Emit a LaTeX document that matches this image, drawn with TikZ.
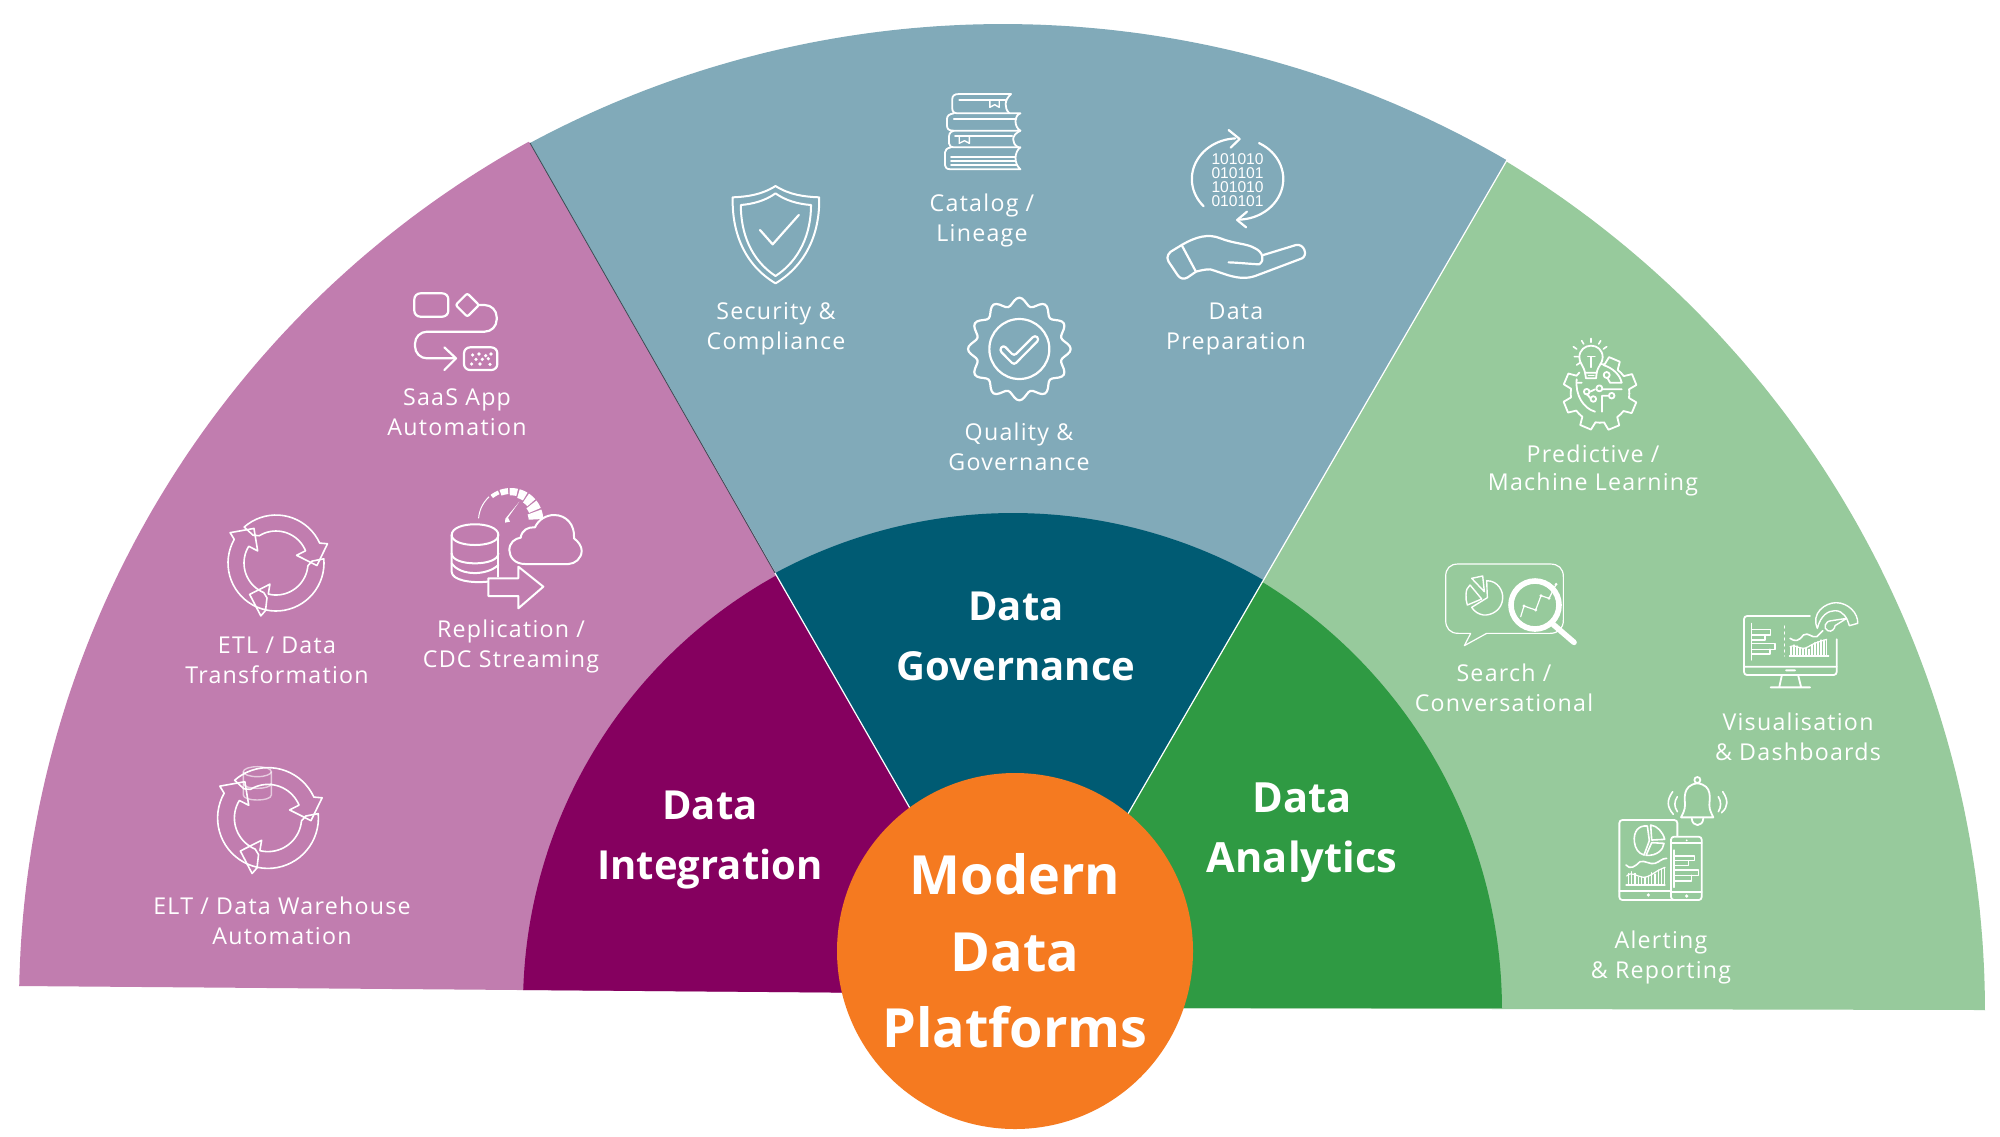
\documentclass[tikz,border=0pt]{standalone}
\usepackage{fontspec}
\setmainfont{Open Sans}
\newfontfamily\labfont[LetterSpace=5.4]{Open Sans}
\newfontfamily\bitfont{Liberation Sans}
\definecolor{pinkL}{HTML}{C17DAF}
\definecolor{blueL}{HTML}{81AAB9}
\definecolor{greenL}{HTML}{97CA9C}
\definecolor{plumD}{HTML}{85005F}
\definecolor{tealD}{HTML}{005B73}
\definecolor{greenD}{HTML}{2F9A43}
\definecolor{orangeC}{HTML}{F57A20}
\newcommand{\Recyc}[3]{% cx cy scale
  \begin{scope}[shift={(#1,#2)},x=#3*0.5pt,y=-#3*0.5pt]
  \foreach \T/\B in {3.5/135,130/135,237.5/135}{
    \draw[ic,line width=0.8pt] plot[domain=\T-\B:\T-28,samples=20,variable=\s] (\s:48) -- (\T-24:55) -- (\T:41) -- (\T-24:22) -- (\T-26:32) -- plot[domain=\T-26:\T-\B+10,samples=20,variable=\s] (\s:32) -- (\T-\B+2:36) -- cycle;
  }
  \end{scope}}
\tikzset{
  ic/.style={draw=white,line width=1.1pt,line join=round,line cap=round},
  ict/.style={draw=white,line width=0.6pt,line join=round,line cap=round},
  zm/.style n args={2}{shift={(#1,#2)},x=0.166667pt,y=-0.166667pt},
  zmw/.style n args={2}{shift={(#1,#2)},x=0.20408pt,y=-0.166667pt},
  lab/.style={text=white,align=center,font=\labfont\fontsize{11.6}{15}\selectfont},
  labt/.style={text=white,align=center,font=\labfont\fontsize{11.6}{14}\selectfont},
  head/.style={text=white,align=center,font=\bfseries\fontsize{20}{30}\selectfont},
  heada/.style={text=white,align=center,font=\bfseries\fontsize{20.8}{30}\selectfont},
  core/.style={text=white,align=center,font=\bfseries\fontsize{27}{38.3}\selectfont},
  bits/.style={text=white,inner sep=0pt,font=\bitfont\fontsize{7.8}{8}\selectfont},
}
\begin{document}
\begin{tikzpicture}[x=0.5pt,y=-0.5pt]
\useasboundingbox (0,0) rectangle (2000,1136);
\fill[white] (0,0) rectangle (2000,1136);
\coordinate (apex) at (1020,1000);
\coordinate (pl) at (19,986);
\coordinate (pt) at (530,143);
\coordinate (gt) at (1507,160);
\coordinate (gr) at (1984,1010);
\coordinate (pm) at (775,573);
\coordinate (gm) at (1263,580);
% light sectors
\fill[pinkL] (pl) -- plot[domain=178.9:118.9,samples=90,variable=\t] ({1005+986*cos(\t)},{1005-986*sin(\t)}) -- (pt) -- (apex) -- (1020,994) -- cycle;
\fill[blueL] (pt) -- plot[domain=118.2:59.75,samples=90,variable=\t] ({1003+1000*cos(\t)},{1024-1000*sin(\t)}) -- (gt) -- (apex) -- cycle;
\fill[greenL] (gt) -- plot[domain=58.8:0.1,samples=90,variable=\t] ({990+995*cos(\t)},{1012-995*sin(\t)}) -- (gr) -- (1020,1008) -- (apex) -- cycle;
% dark sectors
\fill[plumD] (523,990) -- plot[domain=178.2:119,samples=90,variable=\t] ({1014+491*cos(\t)},{1005-491*sin(\t)}) -- (pm) -- (apex) -- (1020,994) -- cycle;
\fill[tealD] (pm) -- plot[domain=118.4:60.05,samples=90,variable=\t] ({1013+501*cos(\t)},{1014-501*sin(\t)}) -- (gm) -- (apex) -- cycle;
\fill[greenD] (gm) -- plot[domain=58.55:0.2,samples=90,variable=\t] ({1000+502*cos(\t)},{1010-502*sin(\t)}) -- (1501,1008) -- (1020,1008) -- (apex) -- cycle;
% dividers
\draw[white,line width=0.6pt] (pm) -- (apex);
\draw[white,line width=0.6pt] (gt) -- (apex);
\draw[black!55!blueL,line width=0.4pt] (pt) -- (pm);
% centre
\node[circle,fill=orangeC,minimum size=178pt,inner sep=0pt] (hub) at (1015,951) {};
\node[core] (hubt) at (1015,951) {Modern\\Data\\Platforms};
\node[head] (hi) at (710,840) {Data\\Integration};
\node[head] (hg) at (1016,636) {Data\\Governance};
\node[heada] (ha) at (1302,833) {Data\\Analytics};
% labels
\node[lab] (l1) at (457,412) {SaaS App\\Automation};
\node[lab] (l2) at (277,660) {ETL / Data\\Transformation};
\node[lab] (l3) at (511,646) {Replication /\\CDC Streaming};
\node[lab] (l4) at (282,921) {ELT / Data Warehouse\\Automation};
\node[lab] (l5) at (776,329) {Security \&\\Compliance};
\node[lab] (l6) at (982,220) {Catalog /\\Lineage};
\node[lab] (l7) at (1236,329) {Data\\Preparation};
\node[lab] (l8) at (1019,447) {Quality \&\\Governance};
\node[labt] (l9) at (1593,470) {Predictive /\\Machine Learning};
\node[lab] (l10) at (1504,688) {Search /\\Conversational};
\node[lab] (l11) at (1798,737) {Visualisation\\\& Dashboards};
\node[lab] (l12) at (1661,957) {Alerting\\\& Reporting};
% SaaS icon
\begin{scope}[zm={380}{270}]
\draw[ic,rounded corners=3pt] (103,70) rectangle (205,140);
\draw[ic,rounded corners=1pt] (262,70) -- (297,105) -- (262,140) -- (227,105) -- cycle;
\draw[ic,rounded corners=6pt] (297,105) -- (350,105) -- (350,185) -- (105,185) -- (105,265) -- (225,265);
\draw[ic] (193,232) -- (228,265) -- (193,300);
\draw[ic,rounded corners=3pt] (252,232) rectangle (352,300);
\foreach \p in {(278,255),(297,252),(317,257),(333,252),(288,268),(307,268),(325,266),(275,282),(300,282),(330,283)}
  \fill[white] \p circle[radius=0.9pt];
\end{scope}
% recycling icons
\Recyc{276}{563}{1}
\Recyc{268}{818}{1.05}
% ELT cylinder
\begin{scope}[zm={190}{750}]
\draw[white,opacity=.6,line width=0.7pt] (202,65) ellipse[x radius=7pt,y radius=2.5pt];
\draw[white,opacity=.6,line width=0.7pt] (160,65) -- (160,135) .. controls (160,155) and (244,155) .. (244,135) -- (244,65);
\draw[white,opacity=.6,line width=0.7pt] (160,100) .. controls (160,120) and (244,120) .. (244,100);
\end{scope}
% Replication icon
\begin{scope}[zm={200}{470}]
\foreach \a/\b/\w in {-176/-132/3,-128/-113/12,-110/-95/18,-92/-77/22,-74/-59/27,-56/-41/32,-38/-23/38,-20/-3/44}{
  \fill[white] plot[domain=\a:\b,samples=8,variable=\s] ({932+98*cos(\s)},{152+98*sin(\s)}) -- plot[domain=\b:\a,samples=8,variable=\s] ({932+(98-\w)*cos(\s)},{152+(98-\w)*sin(\s)}) -- cycle;
}
\fill[white] (958,95) -- (924,143) -- (930,155) -- (915,158) -- (916,146) -- cycle;
\draw[ic,line width=1pt] (755,195) .. controls (755,152) and (895,152) .. (895,195) .. controls (895,235) and (755,235) .. cycle;
\draw[ic,line width=1pt] (755,195) -- (755,305) .. controls (755,330) and (810,340) .. (862,335);
\draw[ic,line width=1pt] (895,195) -- (895,320);
\draw[ic,line width=1pt] (755,250) .. controls (755,290) and (895,290) .. (895,250);
\draw[ic,line width=1pt] (755,280) .. controls (780,318) and (860,318) .. (895,285);
\draw[ic,line width=1pt] (975,282) .. controls (945,282) and (928,262) .. (928,240) .. controls (928,218) and (945,205) .. (962,203) .. controls (965,180) and (985,170) .. (1005,172) .. controls (1015,148) and (1040,135) .. (1062,135) .. controls (1100,135) and (1125,165) .. (1122,205) .. controls (1135,215) and (1145,228) .. (1145,242) .. controls (1145,265) and (1125,282) .. (1105,282) -- cycle;
\draw[ic,line width=1pt] (865,325) -- (955,325) -- (955,290) -- (1030,350) -- (955,415) -- (955,378) -- (865,378) -- cycle;
\end{scope}
% Shield, books, data prep
\begin{scope}[zmw={700}{80}]
\draw[ic,line width=1pt] (185,318) .. controls (150,345) and (115,350) .. (80,352) .. controls (78,460) and (110,555) .. (185,610) .. controls (260,555) and (294,460) .. (292,352) .. controls (255,350) and (220,345) .. cycle;
\draw[ic,line width=1pt] (185,340) .. controls (160,362) and (130,372) .. (100,375) .. controls (100,460) and (125,540) .. (185,588) .. controls (245,540) and (272,460) .. (272,375) .. controls (240,372) and (210,362) .. cycle;
\draw[ic] (147,450) -- (178,493) -- (242,405);
% books
\draw[ic,line width=.9pt] (762,42) -- (635,42) .. controls (622,42) and (618,48) .. (618,58) -- (618,85) .. controls (618,95) and (622,100) .. (632,100) -- (785,100) .. controls (770,105) and (768,140) .. (785,152) -- (620,152) .. controls (608,152) and (605,145) .. (605,135) -- (605,118) .. controls (605,108) and (610,102) .. (622,100);
\draw[ic,line width=.9pt] (762,42) .. controls (745,60) and (745,85) .. (758,100);
\draw[ic,line width=.9pt] (635,60) -- (748,60);
\draw[ic,line width=.7pt] (710,60) -- (710,82) -- (722,74) -- (733,82) -- (733,60);
\draw[ic,line width=.9pt] (622,117) -- (775,117);
\draw[ic,line width=.9pt] (622,152) .. controls (610,156) and (610,165) .. (610,175) -- (610,190) .. controls (610,198) and (615,202) .. (625,202) -- (785,202) .. controls (770,215) and (768,250) .. (785,268) -- (615,268) .. controls (604,268) and (600,262) .. (600,255) -- (600,218) .. controls (600,210) and (605,204) .. (615,202);
\draw[ic,line width=.9pt] (785,152) .. controls (762,165) and (762,190) .. (780,202);
\draw[ic,line width=.9pt] (625,168) -- (765,168);
\draw[ic,line width=.7pt] (635,168) -- (635,190) -- (648,182) -- (660,190) -- (660,168);
\draw[ic,line width=.9pt] (615,230) -- (772,230) (615,243) -- (772,243) (615,256) -- (775,256);
% data prep
\draw[ic] plot[domain=222:93,samples=30,variable=\s] ({1317+112*cos(\s)},{297-122*sin(\s)});
\draw[ic] (1295,150) -- (1322,177) -- (1300,203);
\draw[ic] plot[domain=62:-90,samples=30,variable=\s] ({1317+112*cos(\s)},{297-122*sin(\s)});
\draw[ic] (1340,395) -- (1316,420) -- (1338,442);
\node[bits] (b1) at (1317,238) {101010};
\node[bits] (b2) at (1317,280) {010101};
\node[bits] (b3) at (1317,322) {101010};
\node[bits] (b4) at (1317,364) {010101};
\draw[ic] (1180,495) .. controls (1215,470) and (1245,460) .. (1275,475) .. controls (1310,492) and (1340,490) .. (1360,505) .. controls (1378,515) and (1385,540) .. (1370,553) .. controls (1350,552) and (1320,548) .. (1295,547);
\draw[ic] (1380,525) -- (1460,495) .. controls (1480,490) and (1490,525) .. (1475,535) -- (1360,588) .. controls (1320,605) and (1280,578) .. (1250,568) .. controls (1235,568) and (1225,572) .. (1215,575);
\draw[ic] (1180,495) -- (1215,575) -- (1195,592) .. controls (1185,600) and (1175,595) .. (1170,585) -- (1148,545) .. controls (1140,530) and (1150,515) .. (1160,510) -- cycle;
\end{scope}
% quality
\begin{scope}[zm={940}{280}]
\draw[ic] plot[smooth cycle,domain=0:357,samples=120,variable=\s] ({238+(142+12*cos(12*\s))*cos(\s)},{207+(142+12*cos(12*\s))*sin(\s)});
\draw[ic] (238,207) circle[radius=15pt];
\draw[ic,rounded corners=1.5pt] (190,195) -- (222,228) -- (285,165) -- (298,178) -- (222,255) -- (178,210) -- cycle;
\end{scope}
% predictive
\begin{scope}[zm={1540}{330}]
\foreach \a in {-67,-22,23,68,113,158,203}{
  \draw[ic,line width=.9pt] ({180+88*cos(\a-22.5)},{190+88*sin(\a-22.5)}) -- ({180+88*cos(\a-14)},{190+88*sin(\a-14)}) -- ({180+112*cos(\a-9)},{190+112*sin(\a-9)}) -- ({180+112*cos(\a+9)},{190+112*sin(\a+9)}) -- ({180+88*cos(\a+14)},{190+88*sin(\a+14)}) -- ({180+88*cos(\a+22.5)},{190+88*sin(\a+22.5)});
}
\draw[ic,line width=.9pt] (135,128) .. controls (130,105) and (118,100) .. (118,82) .. controls (118,60) and (135,47) .. (153,47) .. controls (172,47) and (188,60) .. (188,82) .. controls (188,100) and (175,105) .. (170,128) -- cycle;
\draw[ic,line width=.9pt] (135,128) -- (138,145) -- (168,145) -- (170,128);
\draw[ic,line width=.7pt] (153,112) -- (153,80) (143,80) -- (165,80) (145,137) -- (162,137);
\draw[ic,line width=.8pt] (100,50) -- (110,57) (125,32) -- (131,42) (153,25) -- (153,37) (182,32) -- (176,42) (200,50) -- (190,57) (103,80) -- (115,80) (110,105) -- (120,98);
\draw[ic,line width=.9pt] (110,148) .. controls (105,195) and (130,235) .. (165,245);
\draw[ic,line width=.9pt] (190,105) .. controls (220,115) and (240,135) .. (245,158) -- (210,158) -- (203,145);
\draw[ic,line width=.9pt] (110,158) -- (125,158) (245,178) -- (188,178) (186,245) -- (186,197) -- (205,197) (150,185) -- (165,178) (140,192) -- (152,205);
\draw[ic,line width=.9pt] (200,135) circle[radius=1.5pt] (178,175) circle[radius=1.5pt] (140,185) circle[radius=1.4pt] (160,207) circle[radius=1.4pt] (215,197) circle[radius=1.4pt];
\end{scope}
% search
\begin{scope}[zm={1430}{550}]
\draw[ict] (170,250) -- (103,287) -- (122,250) -- (85,250) .. controls (60,250) and (47,235) .. (47,210) -- (47,80) .. controls (47,55) and (60,42) .. (85,42) -- (360,42) .. controls (385,42) and (400,55) .. (400,80) -- (400,210) .. controls (400,235) and (385,250) .. (360,250) -- cycle;
\draw[ict,line width=.7pt] (170,92) .. controls (205,92) and (220,125) .. (218,145) .. controls (216,180) and (185,197) .. (160,195) .. controls (145,192) and (133,185) .. (125,172) -- (172,143) -- cycle;
\draw[ict,line width=.7pt] (108,135) .. controls (108,120) and (112,112) .. (120,105) -- (155,147) -- (112,165) .. controls (108,155) and (108,145) .. (108,135) -- cycle;
\draw[ict,line width=.7pt] (125,85) -- (158,78) -- (163,125) -- cycle;
\draw[ic,line width=2.8pt] (315,165) circle[radius=12pt];
\draw[ic,line width=2.8pt] (368,222) -- (432,277);
\draw[ict] (272,200) -- (282,168) -- (317,180) -- (333,137) -- (357,145) -- (378,103);
\foreach \p in {(282,168),(317,180),(333,137),(357,145),(378,103)}
  \fill[white] \p circle[radius=0.8pt];
\end{scope}
% visualisation
\begin{scope}[zm={1730}{590}]
\draw[ic,line width=.9pt,rounded corners=1.5pt] (240,78) -- (42,78) -- (42,255) -- (320,255) -- (320,148);
\draw[ic,line width=.9pt] (42,230) -- (320,230) (168,241) -- (195,241) (155,258) -- (148,290) (205,258) -- (213,290) (122,292) -- (240,292);
\draw[ict] (65,100) -- (65,210);
\draw[ic,line width=.8pt] (65,118) -- (122,118) -- (122,135) -- (65,135) (105,135) -- (105,150) -- (65,150) (65,160) -- (135,160) -- (135,178) -- (65,178) (120,178) -- (120,192) -- (65,192);
\draw[ict,dash pattern=on 1pt off 2pt] (163,108) -- (163,198);
\draw[ict] (178,198) -- (296,198);
\foreach \x/\t in {183/170,192/165,201/168,210/175,219/178,228/175,237/178,246/165,255/158,264/155,273/150,282/150,290/148}
  \draw[ict] (\x,198) -- (\x,\t);
\draw[ict] (180,170) .. controls (200,160) and (210,185) .. (235,170) .. controls (260,155) and (270,155) .. (290,148);
\draw[ic,line width=.8pt] (180,145) .. controls (195,155) and (205,155) .. (220,135) .. controls (235,125) and (245,145) .. (260,140) -- (278,122);
\draw[ic,line width=.7pt] (262,115) .. controls (242,70) and (285,38) .. (318,38) .. controls (355,38) and (385,70) .. (383,100) -- (358,107) .. controls (352,85) and (340,62) .. (315,62) .. controls (295,62) and (272,75) .. (262,115);
\draw[ic,line width=.7pt] (350,85) -- (305,92) .. controls (285,92) and (278,115) .. (293,122) .. controls (305,128) and (315,115) .. (315,107) -- cycle;
\end{scope}
% alerting
\begin{scope}[zm={1600}{770}]
\draw[ic,line width=.9pt] (292,30) circle[radius=1.5pt];
\draw[ic,line width=.9pt] (292,40) .. controls (245,45) and (255,90) .. (255,105) .. controls (255,120) and (248,132) .. (243,142) -- (340,142) .. controls (335,132) and (328,120) .. (328,105) .. controls (328,90) and (340,45) .. (292,40);
\draw[ic,line width=.9pt] (275,145) .. controls (277,172) and (308,172) .. (310,145);
\draw[ic,line width=.8pt] (232,80) .. controls (222,95) and (222,110) .. (232,125) (218,65) .. controls (200,90) and (200,110) .. (220,133) (355,80) .. controls (364,95) and (364,110) .. (355,125) (368,65) .. controls (385,90) and (385,110) .. (365,128);
\draw[ic,line width=.9pt,rounded corners=1.5pt] (58,150) rectangle (232,390);
\draw[ic,line width=.9pt] (58,362) -- (215,362);
\fill[white] (145,375) circle[radius=0.9pt];
\fill[greenL] (213,200) rectangle (305,390);
\draw[ic,line width=.9pt,rounded corners=1.5pt] (213,200) rectangle (305,390);
\draw[ic,line width=.9pt] (213,220) -- (305,220) (213,365) -- (305,365);
\fill[white] (260,378) circle[radius=0.9pt] (260,211) circle[radius=0.5pt];
\draw[ict] (222,240) -- (222,352);
\draw[ic,line width=.8pt] (222,258) -- (283,258) -- (283,272) -- (222,272) (265,272) -- (265,286) -- (222,286) (222,300) -- (295,300) -- (295,316) -- (222,316) (275,316) -- (275,333) -- (222,333);
\draw[ic,line width=.8pt] (142,168) .. controls (115,165) and (100,185) .. (103,215) .. controls (105,235) and (115,250) .. (132,255) -- (148,212) -- cycle;
\draw[ic,line width=.8pt] (152,165) .. controls (172,168) and (188,185) .. (194,208) -- (155,210) -- cycle;
\draw[ic,line width=.8pt] (192,220) .. controls (190,240) and (170,258) .. (138,256) -- (155,218) -- cycle;
\draw[ic,line width=.8pt] (78,285) .. controls (90,300) and (105,290) .. (120,275) .. controls (135,270) and (150,285) .. (165,280) .. controls (180,275) and (185,265) .. (200,265);
\draw[ict] (78,345) -- (195,345);
\foreach \x/\t in {85/310,95/305,105/310,115/322,125/322,135/322,145/318,155/308,165/312,175/300,185/298,193/292}
  \draw[ict] (\x,345) -- (\x,\t);
\draw[ict] (80,318) .. controls (95,302) and (110,320) .. (130,322) .. controls (155,320) and (160,305) .. (195,292);
\end{scope}
\end{tikzpicture}
\end{document}
